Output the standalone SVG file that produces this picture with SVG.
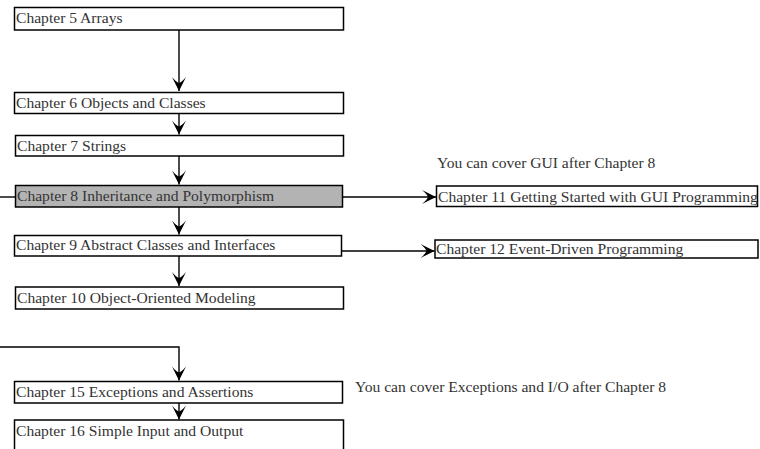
<svg xmlns="http://www.w3.org/2000/svg" width="760" height="449" viewBox="0 0 760 449">
<style>
.box{fill:#fff;stroke:#000;stroke-width:1.5}
.hl{fill:#b3b3b3}
.t{font-family:"Liberation Serif","Times New Roman",serif;font-size:15.6px;fill:#333}
.c{fill:none;stroke:#000;stroke-width:1.4}
</style>
<defs>
<marker id="ah" markerUnits="userSpaceOnUse" markerWidth="16" markerHeight="16" viewBox="-15 -8 16 16" refX="0" refY="0" orient="auto">
<path d="M0,0 L-14,-7 Q-9,-3 -8,0 Q-9,3 -14,7 Z" fill="#000"/>
</marker>
</defs>
<rect width="760" height="449" fill="#fff"/>
<g id="connectors">
<line class="c" x1="179" y1="30" x2="179" y2="91" marker-end="url(#ah)"/>
<line class="c" x1="179" y1="114" x2="179" y2="134.5" marker-end="url(#ah)"/>
<line class="c" x1="179" y1="156" x2="179" y2="184.5" marker-end="url(#ah)"/>
<line class="c" x1="179" y1="207" x2="179" y2="234.5" marker-end="url(#ah)"/>
<line class="c" x1="179" y1="256" x2="179" y2="286" marker-end="url(#ah)"/>
<line class="c" x1="343" y1="197" x2="436" y2="197" marker-end="url(#ah)"/>
<line class="c" x1="342" y1="251" x2="434.5" y2="251" marker-end="url(#ah)"/>
<line class="c" x1="0" y1="197" x2="15" y2="197"/>
<polyline class="c" points="0,347 179,347 179,380.5" marker-end="url(#ah)"/>
<line class="c" x1="179" y1="403" x2="179" y2="419.5" marker-end="url(#ah)"/>
</g>
<g id="ch5"><rect class="box" x="14.5" y="7.5" width="329" height="22.5"/><text class="t" x="16" y="23">Chapter 5 Arrays</text></g>
<g id="ch6"><rect class="box" x="14.5" y="92.5" width="329" height="21"/><text class="t" x="16" y="108">Chapter 6 Objects and Classes</text></g>
<g id="ch7"><rect class="box" x="15.5" y="135.5" width="328" height="20.5"/><text class="t" x="17" y="150.5">Chapter 7 Strings</text></g>
<g id="ch8"><rect class="box hl" x="15.5" y="185.5" width="327" height="21.5"/><text class="t" x="17" y="201">Chapter 8 Inheritance and Polymorphism</text></g>
<g id="ch9"><rect class="box" x="14.5" y="235.5" width="327" height="20.5"/><text class="t" x="16" y="250">Chapter 9 Abstract Classes and Interfaces</text></g>
<g id="ch10"><rect class="box" x="15.5" y="287" width="328" height="22"/><text class="t" x="17" y="302.5">Chapter 10 Object-Oriented Modeling</text></g>
<g id="ch11"><rect class="box" x="436.5" y="186" width="321" height="20.5"/><text class="t" x="438" y="201.5">Chapter 11 Getting Started with GUI Programming</text></g>
<g id="ch12"><rect class="box" x="435" y="240" width="323" height="18"/><text class="t" x="436" y="254">Chapter 12 Event-Driven Programming</text></g>
<g id="ch15"><rect class="box" x="14.5" y="381.5" width="328" height="21.5"/><text class="t" x="16" y="397">Chapter 15 Exceptions and Assertions</text></g>
<g id="ch16"><rect class="box" x="14.5" y="420" width="329" height="40"/><text class="t" x="16" y="435.5">Chapter 16 Simple Input and Output</text></g>
<g id="notes">
<text class="t" x="437" y="168">You can cover GUI after Chapter 8</text>
<text class="t" x="355" y="392">You can cover Exceptions and I/O after Chapter 8</text>
</g>
</svg>
